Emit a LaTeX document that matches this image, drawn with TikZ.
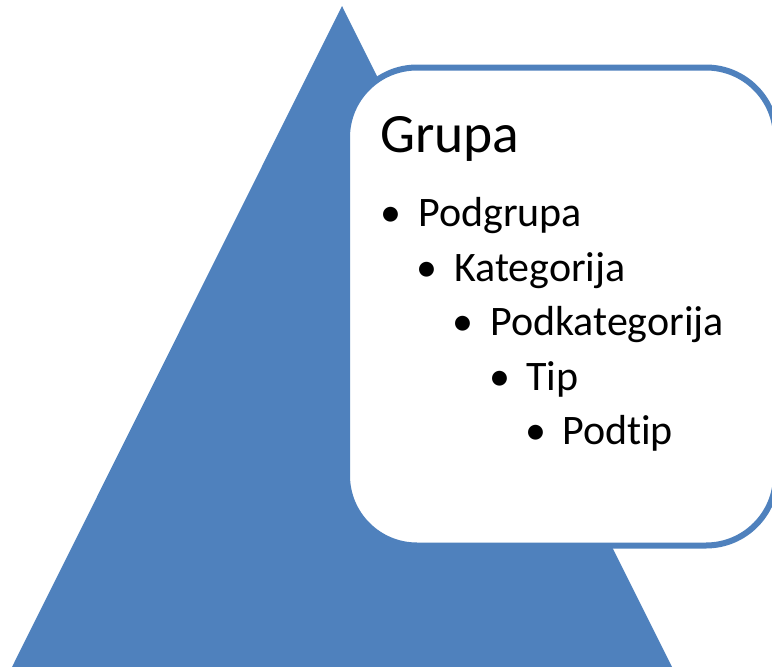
\documentclass[tikz,border=0pt]{standalone}
\usepackage{fontspec}
\setmainfont{Carlito}[Ligatures=NoCommon]
\definecolor{pyrblue}{HTML}{4F81BD}
\tikzset{
  title/.style={anchor=base west, inner sep=0pt, font=\fontsize{55.5}{55.5}\selectfont},
  item/.style={anchor=base west, inner sep=0pt, font=\fontsize{42}{42}\selectfont},
  dot/.style={anchor=base, inner sep=0pt, font=\fontsize{42}{42}\selectfont},
}
\begin{document}
\begin{tikzpicture}[x=1pt,y=-1pt]
    \clip (0,0) rectangle (772,667);

    %Pyramid
    \fill[pyrblue] (342,6) -- (672,667) -- (12,667) -- cycle;

    %Text Box
    \draw[pyrblue, line width=6pt, fill=white, rounded corners=70pt] (347,67.5) rectangle (776,545.5);

    \node[title] (grupa) at (380,152) {Grupa};

    \node[dot] (d1) at (391,226.5) {\textbullet};
    \node[item] (podgrupa) at (418,226.5) {Podgrupa};
    \node[dot] (d2) at (427,281) {\textbullet};
    \node[item] (kategorija) at (454,281) {Kategorija};
    \node[dot] (d3) at (463,335) {\textbullet};
    \node[item] (podkategorija) at (490,335) {Podkategorija};
    \node[dot] (d4) at (500,390) {\textbullet};
    \node[item] (tip) at (526,390) {Tip};
    \node[dot] (d5) at (536,444) {\textbullet};
    \node[item] (podtip) at (562,444) {Podtip};
\end{tikzpicture}
\end{document}
